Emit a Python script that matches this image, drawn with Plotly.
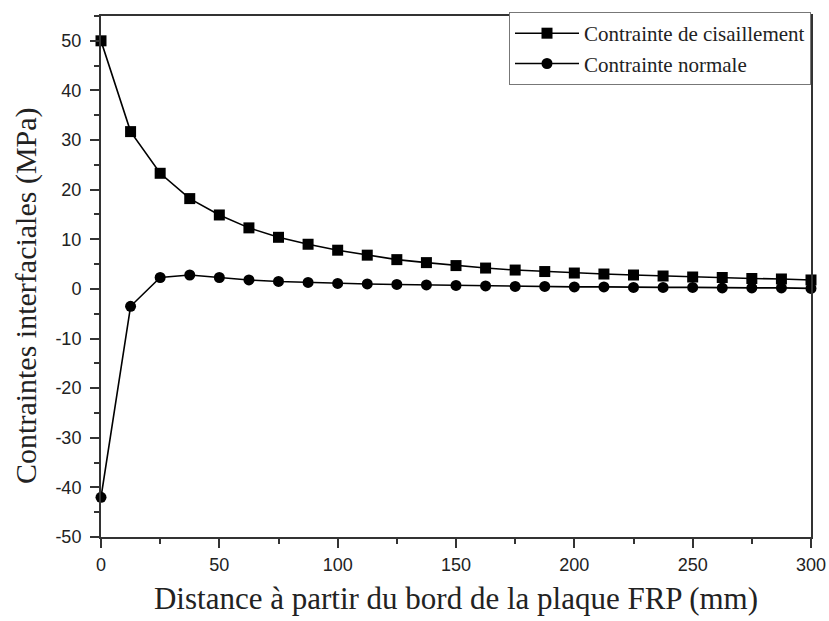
import plotly.graph_objects as go

distance = [0, 12.5, 25, 37.5, 50, 62.5, 75, 87.5, 100, 112.5, 125, 137.5, 150,
            162.5, 175, 187.5, 200, 212.5, 225, 237.5, 250, 262.5, 275, 287.5, 300]
cisaillement = [50, 31.7, 23.3, 18.2, 14.9, 12.3, 10.4, 9.0, 7.8, 6.8, 5.9, 5.3, 4.7,
                4.2, 3.8, 3.5, 3.2, 3.0, 2.8, 2.6, 2.4, 2.3, 2.1, 2.0, 1.8]
normale = [-42, -3.5, 2.3, 2.8, 2.3, 1.8, 1.5, 1.3, 1.1, 1.0, 0.9, 0.8, 0.7,
           0.6, 0.5, 0.5, 0.4, 0.4, 0.3, 0.3, 0.3, 0.2, 0.2, 0.2, 0.1]
x_ticks = [0, 50, 100, 150, 200, 250, 300]
y_ticks = [-50, -40, -30, -20, -10, 0, 10, 20, 30, 40, 50]
y_labels = [str(v) for v in y_ticks]

fig = go.Figure()
fig.add_trace(go.Scatter(x=distance, y=cisaillement, mode="lines+markers",
                         name="Contrainte de cisaillement",
                         line=dict(color="black", width=1.6),
                         marker=dict(symbol="square", size=11, color="black"),
                         cliponaxis=False))
fig.add_trace(go.Scatter(x=distance, y=normale, mode="lines+markers",
                         name="Contrainte normale",
                         line=dict(color="black", width=1.6),
                         marker=dict(symbol="circle", size=11, color="black"),
                         cliponaxis=False))

axis_common = dict(showgrid=False, zeroline=False, showline=True, linecolor="#333",
                   linewidth=2, mirror=True, ticks="outside", ticklen=9, tickwidth=1.5,
                   tickcolor="#333", automargin=False,
                   tickfont=dict(family="Liberation Sans, Arial", size=18, color="#222"))

fig.update_xaxes(range=[0, 300], tickvals=x_ticks, ticklabelstandoff=1,
                 minor=dict(dtick=25, ticks="outside", ticklen=5, tickcolor="#333"),
                 title=dict(text="Distance à partir du bord de la plaque FRP (mm)",
                            font=dict(family="Liberation Serif, Times New Roman", size=31, color="#222"),
                            standoff=14),
                 **axis_common)
fig.update_yaxes(range=[-50, 55], tickvals=y_ticks, ticktext=y_labels, ticklabelstandoff=5,
                 minor=dict(dtick=5, ticks="outside", ticklen=5, tickcolor="#333"),
                 **axis_common)

fig.add_annotation(text="Contraintes interfaciales (MPa)", textangle=-90,
                   xref="paper", yref="paper", x=-0.1056, y=0.4627,
                   xanchor="center", yanchor="middle", showarrow=False,
                   font=dict(family="Liberation Serif, Times New Roman", size=30, color="#222"))

fig.update_layout(
    width=829, height=621,
    margin=dict(l=101, r=18, t=14, b=84),
    plot_bgcolor="white", paper_bgcolor="white",
    legend=dict(x=1.0, y=1.0076, xanchor="right", yanchor="top",
                bgcolor="white", bordercolor="#777", borderwidth=1,
                font=dict(family="Liberation Serif, Times New Roman", size=21, color="#222"),
                tracegroupgap=0, itemwidth=64, entrywidth=290, entrywidthmode="pixels"),
    showlegend=True,
)

fig.write_html("out.html", config={"displayModeBar": False},
               post_script="document.body.style.margin='0';document.body.style.overflow='hidden';")
